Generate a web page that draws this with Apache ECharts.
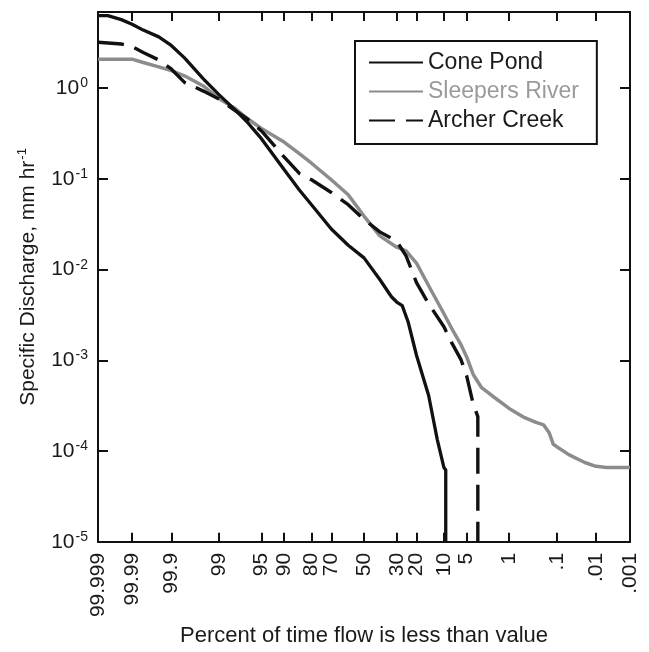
<!DOCTYPE html>
<html>
<head>
<meta charset="utf-8">
<script src="https://cdn.jsdelivr.net/npm/echarts@6/dist/echarts.min.js"></script>
<style>
  html, body { margin: 0; padding: 0; background: #fff; }
  #chart { width: 649px; height: 652px; }
</style>
</head>
<body>
<div id="chart"></div>
<script>
// Flow-duration curves: specific discharge vs. percent of time flow is less than value
const FONT = '"Liberation Sans", Arial, Helvetica, sans-serif';

// Probability-axis tick labels (percent)
const xTickPct = [99.999, 99.99, 99.9, 99, 95, 90, 80, 70, 50, 30, 20, 10, 5, 1, 0.1, 0.01, 0.001];
const xTickText = ['99.999', '99.99', '99.9', '99', '95', '90', '80', '70', '50', '30', '20', '10', '5', '1', '.1', '.01', '.001'];

// Cone Pond
const conePct = [99.999, 99.998, 99.995, 99.99, 99.98, 99.95, 99.9, 99.8, 99.5, 99, 98, 97, 95, 90, 85, 80, 70, 60, 50, 40, 33, 30, 27, 24, 20, 15, 12, 10, 9.5, 9.5];
const coneQ = [6.3, 6.3, 5.7, 5.08, 4.37, 3.68, 2.96, 2.16, 1.27, 0.85, 0.567, 0.43, 0.278, 0.127, 0.0755, 0.052, 0.0281, 0.0186, 0.0135, 0.0078, 0.00503, 0.0044, 0.00401, 0.00267, 0.00114, 0.00041, 0.000134, 0.000066, 0.000062, 0.00001];

// Sleepers River
const sleepPct = [99.999, 99.99, 99.98, 99.95, 99.9, 99.8, 99.5, 99, 98, 97, 95, 90, 85, 80, 70, 60, 50, 40, 30, 25, 20, 15, 10, 8, 6, 5, 4, 3, 2, 1, 0.5, 0.3, 0.2, 0.15, 0.12, 0.1, 0.05, 0.02, 0.01, 0.005, 0.001];
const sleepQ = [2.09, 2.09, 1.92, 1.72, 1.56, 1.37, 1.06, 0.77, 0.59, 0.47, 0.36, 0.255, 0.19, 0.149, 0.098, 0.067, 0.039, 0.0236, 0.0177, 0.0161, 0.0118, 0.00665, 0.00327, 0.00226, 0.00149, 0.0011, 0.0007, 0.000506, 0.000408, 0.000296, 0.000234, 0.000209, 0.000195, 0.00016, 0.000119, 0.000112, 0.000091, 0.000075, 0.000068, 0.000066, 0.000066];

// Archer Creek
const archPct = [99.999, 99.995, 99.99, 99.98, 99.95, 99.9, 99.8, 99.5, 99, 98, 97, 95, 90, 85, 80, 70, 60, 50, 40, 30, 25, 20, 15, 10, 8, 6, 5, 4, 3.4, 3.4];
const archQ = [3.21, 3.07, 2.89, 2.48, 2.05, 1.63, 1.16, 0.93, 0.76, 0.56, 0.465, 0.339, 0.175, 0.115, 0.098, 0.071, 0.052, 0.0359, 0.0261, 0.0206, 0.0142, 0.0072, 0.0042, 0.00235, 0.00157, 0.00102, 0.00068, 0.00033, 0.00024, 0.00001];

const Y_MIN = 1e-5, Y_MAX = 6.92;

// Inverse standard normal CDF (Acklam's rational approximation)
function invNorm(p) {
  const a = [-3.969683028665376e+01, 2.209460984245205e+02, -2.759285104469687e+02, 1.383577518672690e+02, -3.066479806614716e+01, 2.506628277459239e+00];
  const b = [-5.447609879822406e+01, 1.615858368580409e+02, -1.556989798598866e+02, 6.680131188771972e+01, -1.328068155288572e+01];
  const c = [-7.784894002430293e-03, -3.223964580411365e-01, -2.400758277161838e+00, -2.549671348049903e+00, 4.374664141464968e+00, 2.938163982698783e+00];
  const d = [7.784695709041462e-03, 3.224671290700398e-01, 2.445134137142996e+00, 3.754408661907416e+00];
  const pl = 0.02425, ph = 1 - pl;
  let q, r;
  if (p < pl) {
    q = Math.sqrt(-2 * Math.log(p));
    return (((((c[0]*q+c[1])*q+c[2])*q+c[3])*q+c[4])*q+c[5]) / ((((d[0]*q+d[1])*q+d[2])*q+d[3])*q+1);
  }
  if (p <= ph) {
    q = p - 0.5; r = q * q;
    return (((((a[0]*r+a[1])*r+a[2])*r+a[3])*r+a[4])*r+a[5])*q / (((((b[0]*r+b[1])*r+b[2])*r+b[3])*r+b[4])*r+1);
  }
  q = Math.sqrt(-2 * Math.log(1 - p));
  return -(((((c[0]*q+c[1])*q+c[2])*q+c[3])*q+c[4])*q+c[5]) / ((((d[0]*q+d[1])*q+d[2])*q+d[3])*q+1);
}
// Percent -> position on the normal-probability axis (high percent on the left)
const xPos = pct => -invNorm(pct / 100);

const X_MIN = xPos(99.999), X_MAX = xPos(0.001);
const xTickPos = xTickPct.map(xPos);

function pairs(pct, q) { return pct.map((p, i) => [xPos(p), q[i]]); }

const axisColor = '#111';
const textColor = '#1a1a1a';

const baseX = {
  type: 'value', min: X_MIN, max: X_MAX,
  axisLine: { show: true, onZero: false, lineStyle: { color: axisColor, width: 2 } },
  axisTick: { show: true, inside: true, length: 9, customValues: xTickPos, lineStyle: { color: axisColor, width: 2 } },
  splitLine: { show: false }
};
const baseY = {
  type: 'log', logBase: 10, min: Y_MIN, max: Y_MAX,
  axisLine: { show: true, onZero: false, lineStyle: { color: axisColor, width: 2 } },
  axisTick: { show: true, inside: true, length: 10, lineStyle: { color: axisColor, width: 2 } },
  splitLine: { show: false }, minorTick: { show: false }
};

const chart = echarts.init(document.getElementById('chart'), null, { renderer: 'canvas' });
chart.setOption({
  animation: false,
  backgroundColor: '#fff',
  grid: { left: 98, right: 19, top: 12, bottom: 109, containLabel: false },
  xAxis: [
    Object.assign({}, baseX, {
      position: 'bottom',
      name: 'Percent of time flow is less than value',
      nameLocation: 'middle', nameGap: 83,
      nameTextStyle: { fontFamily: FONT, fontSize: 22, color: textColor, verticalAlign: 'top' },
      axisLabel: {
        show: true, rotate: 90, margin: 11, customValues: xTickPos,
        fontFamily: FONT, fontSize: 21, color: textColor,
        formatter: function (v) {
          for (let i = 0; i < xTickPos.length; i++) {
            if (Math.abs(xTickPos[i] - v) < 1e-6) return xTickText[i];
          }
          return '';
        }
      }
    }),
    Object.assign({}, baseX, { position: 'top', axisLabel: { show: false } })
  ],
  yAxis: [
    Object.assign({}, baseY, {
      position: 'left',
      name: '{t|Specific Discharge, mm hr}{s|-1}',
      nameLocation: 'middle', nameGap: 57, nameRotate: 90,
      nameTextStyle: {
        fontFamily: FONT, color: textColor,
        rich: {
          t: { fontFamily: FONT, fontSize: 21, color: textColor },
          s: { fontFamily: FONT, fontSize: 13, color: textColor, padding: [0, 0, 12, 1] }
        }
      },
      axisLabel: {
        show: true, margin: 10, fontFamily: FONT, color: textColor,
        formatter: function (v) {
          const e = Math.log10(v);
          const r = Math.round(e);
          if (Math.abs(e - r) > 1e-6) return '';
          return '{b|10}{s|' + r + '}';
        },
        rich: {
          b: { fontFamily: FONT, fontSize: 21, color: textColor },
          s: { fontFamily: FONT, fontSize: 14, color: textColor, padding: [0, 0, 10, 1] }
        }
      }
    }),
    Object.assign({}, baseY, { position: 'right', axisLabel: { show: false } })
  ],
  legend: {
    orient: 'vertical', left: 355, top: 41,
    itemWidth: 54, itemHeight: 14, itemGap: 6,
    padding: [10, 18, 12, 13],
    borderColor: axisColor, borderWidth: 2, backgroundColor: '#fff',
    itemStyle: { opacity: 0 },
    textStyle: { fontFamily: FONT, fontSize: 23, color: textColor, lineHeight: 22 },
    data: [
      { name: 'Cone Pond' },
      { name: 'Sleepers River', textStyle: { color: '#9a9a9a' } },
      { name: 'Archer Creek' }
    ]
  },
  series: [
    {
      name: 'Sleepers River', type: 'line', xAxisIndex: 0, yAxisIndex: 0,
      data: pairs(sleepPct, sleepQ), symbol: 'none', showSymbol: false,
      lineStyle: { color: '#8c8c8c', width: 3.5 }, itemStyle: { color: '#8c8c8c' }, z: 2
    },
    {
      name: 'Cone Pond', type: 'line', xAxisIndex: 0, yAxisIndex: 0,
      data: pairs(conePct, coneQ), symbol: 'none', showSymbol: false,
      lineStyle: { color: '#111', width: 3.3 }, itemStyle: { color: '#111' }, z: 3
    },
    {
      name: 'Archer Creek', type: 'line', xAxisIndex: 0, yAxisIndex: 0,
      data: pairs(archPct, archQ), symbol: 'none', showSymbol: false,
      lineStyle: { color: '#111', width: 3.4, type: [26, 11] }, itemStyle: { color: '#111' }, z: 4
    }
  ]
});
</script>
</body>
</html>
